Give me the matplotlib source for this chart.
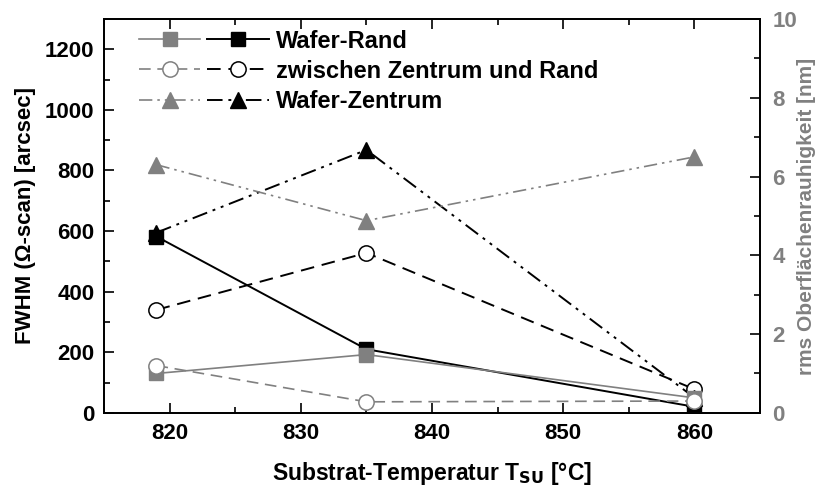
import matplotlib.pyplot as plt
from matplotlib.legend_handler import HandlerTuple
from matplotlib.ticker import MultipleLocator

plt.rcParams['font.family'] = ['Liberation Sans', 'DejaVu Sans']
plt.rcParams['font.weight'] = 'bold'

# Substrattemperatur [°C]
temp = [819, 835, 860]

# FWHM (Omega-scan) [arcsec], linke Achse
fwhm_rand = [582, 210, 20]
fwhm_mitte = [340, 528, 78]
fwhm_zentrum = [595, 868, 50]

# rms Rauhigkeit [nm], rechte Achse
rms_rand = [1.0, 1.48, 0.38]
rms_mitte = [1.2, 0.28, 0.3]
rms_zentrum = [6.3, 4.88, 6.5]

labels = ["Wafer-Rand", "zwischen Zentrum und Rand", "Wafer-Zentrum"]

grau = "#808080"
dashdotdot = (0, (8, 3, 1.5, 3, 1.5, 3))

fig = plt.figure(figsize=(8.19, 4.88), dpi=100)
ax = fig.add_axes([0.127, 0.154, 0.801, 0.807])
ax2 = ax.twinx()

# FWHM-Kurven (schwarz)
l1, = ax.plot(temp, fwhm_rand, color="black", lw=1.4, ls="-",
              marker="s", ms=10, mfc="black", mec="black")
l2, = ax.plot(temp, fwhm_mitte, color="black", lw=1.4, ls="--", dashes=(7, 4),
              marker="o", ms=11, mfc="white", mec="black", mew=1.1)
l3, = ax.plot(temp, fwhm_zentrum, color="black", lw=1.4, ls=dashdotdot,
              marker="^", ms=12, mfc="black", mec="black")

# Rauhigkeitskurven (grau)
g1, = ax2.plot(temp, rms_rand, color=grau, lw=1.2, ls="-",
               marker="s", ms=10, mfc=grau, mec=grau)
g2, = ax2.plot(temp, rms_mitte, color=grau, lw=1.2, ls="--", dashes=(7, 4),
               marker="o", ms=11, mfc="white", mec=grau, mew=1.1)
g3, = ax2.plot(temp, rms_zentrum, color=grau, lw=1.2, ls=dashdotdot,
               marker="^", ms=12, mfc=grau, mec=grau)

ax.set_xlim(815, 865)
ax.set_ylim(0, 1300)
ax2.set_ylim(0, 10)

ax.xaxis.set_major_locator(MultipleLocator(10))
ax.xaxis.set_minor_locator(MultipleLocator(5))
ax.yaxis.set_major_locator(MultipleLocator(200))
ax.yaxis.set_minor_locator(MultipleLocator(100))
ax2.yaxis.set_major_locator(MultipleLocator(2))
ax2.yaxis.set_minor_locator(MultipleLocator(1))

ax.tick_params(which="both", direction="in", top=True, width=1.2, labelsize=16)
ax.tick_params(which="major", length=7, pad=7)
ax.tick_params(which="minor", length=4)
ax.tick_params(axis="y", which="both", right=False)
ax2.tick_params(which="both", direction="in", width=1.2, labelsize=16, labelcolor=grau)
ax2.tick_params(which="major", length=7, pad=9)
ax2.tick_params(which="minor", length=4)

for a in (ax, ax2):
    for s in a.spines.values():
        s.set_linewidth(1.3)

ax.set_ylabel("FWHM (Ω-scan) [arcsec]", fontsize=16, fontweight="bold", labelpad=6)
ax.set_xlabel(r"Substrat-Temperatur T$_{\mathbf{SU}}$ [°C]", fontsize=16.5,
              fontweight="bold", labelpad=12)
ax2.set_ylabel("rms Oberflächenrauhigkeit [nm]", fontsize=15, fontweight="bold",
               color=grau, labelpad=0)

ax2.legend([(g1, l1), (g2, l2), (g3, l3)], labels,
           handler_map={tuple: HandlerTuple(ndivide=None, pad=0.3)},
           loc="upper left", bbox_to_anchor=(0.028, 1.015), frameon=False,
           handlelength=5.5, handletextpad=0.3, labelspacing=0.3,
           borderaxespad=0.3, prop={"size": 17, "weight": "bold"})

fig.savefig("out.png", dpi=100)
